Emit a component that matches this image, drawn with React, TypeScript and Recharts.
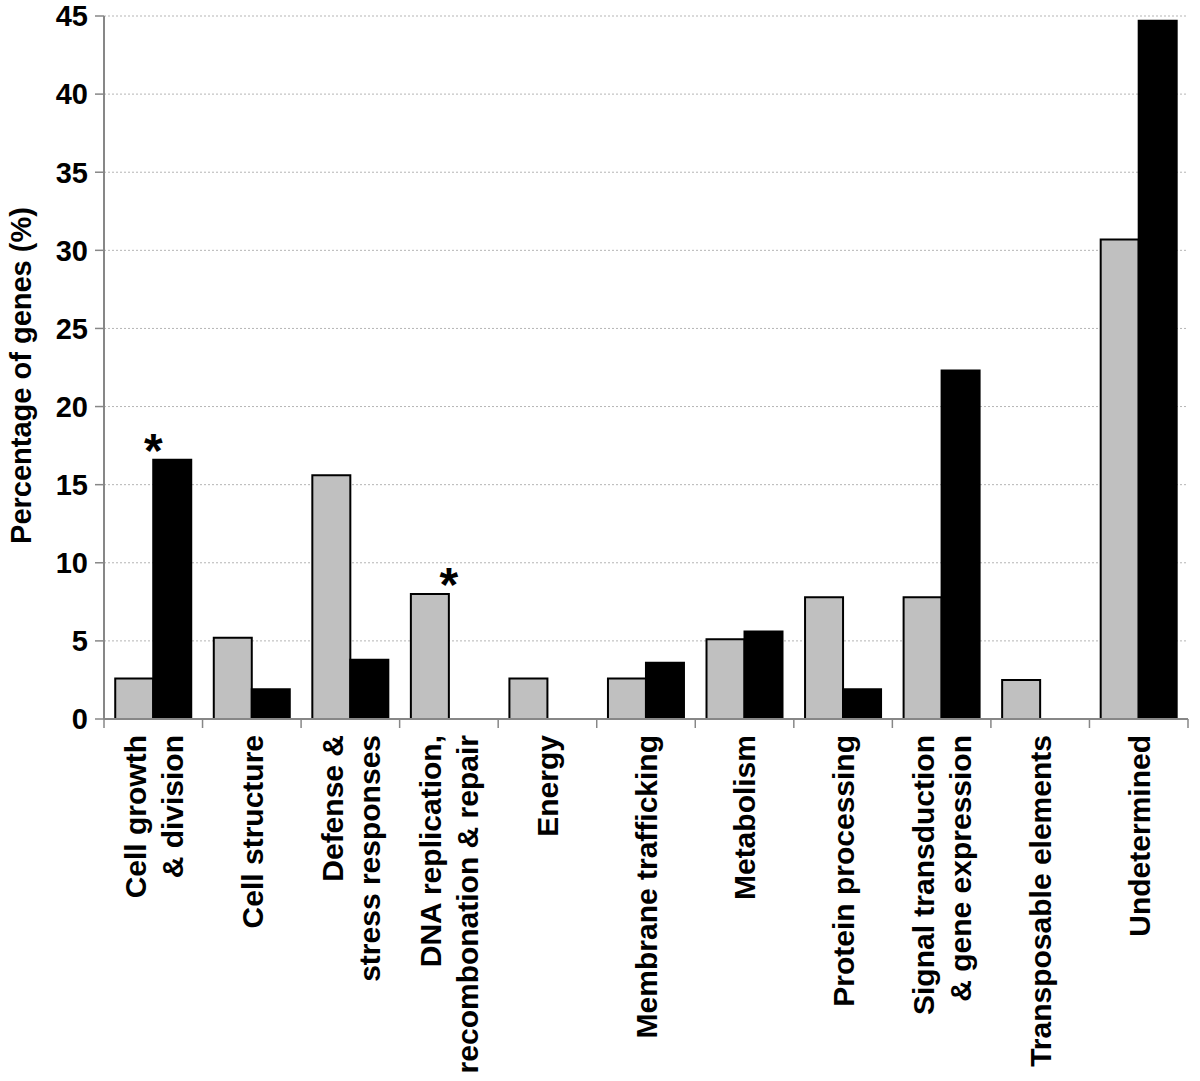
import {
  ComposedChart,
  Bar,
  XAxis,
  YAxis,
  CartesianGrid,
  ReferenceDot,
} from 'recharts'

const categories = [
  'Cell growth & division',
  'Cell structure',
  'Defense & stress responses',
  'DNA replication, recombonation & repair',
  'Energy',
  'Membrane trafficking',
  'Metabolism',
  'Protein processing',
  'Signal transduction & gene expression',
  'Transposable elements',
  'Undetermined',
]

const tickLabels = [
  ['Cell growth', '& division'],
  ['Cell structure'],
  ['Defense &', 'stress responses'],
  ['DNA replication,', 'recombonation & repair'],
  ['Energy'],
  ['Membrane trafficking'],
  ['Metabolism'],
  ['Protein processing'],
  ['Signal transduction', '& gene expression'],
  ['Transposable elements'],
  ['Undetermined'],
]

const greyValues = [2.6, 5.2, 15.6, 8.0, 2.6, 2.6, 5.1, 7.8, 7.8, 2.5, 30.7]
const blackValues = [16.6, 1.9, 3.8, 0, 0, 3.6, 5.6, 1.9, 22.3, 0, 44.7]
const starred = [true, false, false, true, false, false, false, false, false, false, false]

const yTicks = [0, 5, 10, 15, 20, 25, 30, 35, 40, 45]

const data = categories.map((category, i) => ({
  category,
  grey: greyValues[i],
  black: blackValues[i],
}))

const FONT = '"Liberation Sans", Arial, sans-serif'
const AXIS_GREY = '#878787'

function CategoryTick(props: any) {
  const { x, y, payload } = props
  const lines = tickLabels[payload.index] || [payload.value]
  const half = payload.offset || 0
  const isLast = payload.index === categories.length - 1
  const spacing = 37
  const first = -((lines.length - 1) * spacing) / 2
  return (
    <g>
      <line x1={x - half} x2={x - half} y1={y - 9} y2={y} stroke={AXIS_GREY} strokeWidth={1.5} />
      {isLast && (
        <line x1={x + half} x2={x + half} y1={y - 9} y2={y} stroke={AXIS_GREY} strokeWidth={1.5} />
      )}
      {lines.map((line: string, i: number) => {
        const lx = x + first + i * spacing
        const ly = y + 7
        return (
          <text
            key={i}
            x={lx}
            y={ly}
            transform={`rotate(-90, ${lx}, ${ly})`}
            textAnchor="end"
            dy="0.36em"
            fontFamily={FONT}
            fontWeight="bold"
            fontSize={30}
            fill="#000"
          >
            {line}
          </text>
        )
      })}
    </g>
  )
}

function YLabel(props: any) {
  const { viewBox } = props
  const cx = viewBox.x + 21
  const cy = viewBox.y + viewBox.height / 2 + 8
  return (
    <text
      x={cx}
      y={cy}
      transform={`rotate(-90, ${cx}, ${cy})`}
      textAnchor="middle"
      dy="0.36em"
      fontFamily={FONT}
      fontWeight="bold"
      fontSize={29}
      fill="#000"
    >
      Percentage of genes (%)
    </text>
  )
}

function StarLabel(props: any) {
  const { viewBox } = props
  const cx = viewBox.x + viewBox.width / 2
  const cy = viewBox.y + viewBox.height / 2
  return (
    <text x={cx} y={cy + 7} textAnchor="middle" fontFamily={FONT} fontWeight="bold" fontSize={48} fill="#000">
      *
    </text>
  )
}

export default function App() {
  return (
    <div style={{ position: 'absolute', left: 0, top: 0, background: '#fff' }}>
      <ComposedChart
        width={1200}
        height={1081}
        data={data}
        margin={{ top: 16, right: 12, left: 0, bottom: 0 }}
        barCategoryGap="11.4%"
        barGap={0}
      >
        <CartesianGrid vertical={false} stroke="#b5b5b5" strokeDasharray="2 2" />
        <XAxis
          dataKey="category"
          interval={0}
          height={362}
          tickSize={9}
          tickMargin={0}
          tickLine={false}
          axisLine={{ stroke: AXIS_GREY, strokeWidth: 2 }}
          tick={<CategoryTick />}
        />
        <XAxis
          xAxisId="top"
          dataKey="category"
          orientation="top"
          height={0}
          tick={false}
          tickLine={false}
          axisLine={{ stroke: AXIS_GREY, strokeWidth: 2 }}
        />
        <YAxis
          width={104}
          domain={[0, 45]}
          ticks={yTicks}
          interval={0}
          tickSize={9}
          tickMargin={7}
          tickLine={{ stroke: AXIS_GREY, strokeWidth: 1.5 }}
          axisLine={{ stroke: AXIS_GREY, strokeWidth: 2 }}
          tick={{ fill: '#000', fontFamily: FONT, fontWeight: 'bold', fontSize: 29 }}
          label={<YLabel />}
        />
        <YAxis
          yAxisId="right"
          orientation="right"
          width={0}
          domain={[0, 45]}
          tick={false}
          tickLine={false}
          axisLine={{ stroke: AXIS_GREY, strokeWidth: 2 }}
        />
        <Bar dataKey="grey" fill="#c0c0c0" stroke="#000" strokeWidth={2} isAnimationActive={false} />
        <Bar dataKey="black" fill="#000" stroke="#000" strokeWidth={2} isAnimationActive={false} />
        {categories.map((c, i) =>
          starred[i] ? (
            <ReferenceDot
              key={c}
              x={c}
              y={Math.max(greyValues[i], blackValues[i])}
              r={0}
              stroke="none"
              fill="none"
              label={<StarLabel />}
            />
          ) : null
        )}
      </ComposedChart>
    </div>
  )
}
